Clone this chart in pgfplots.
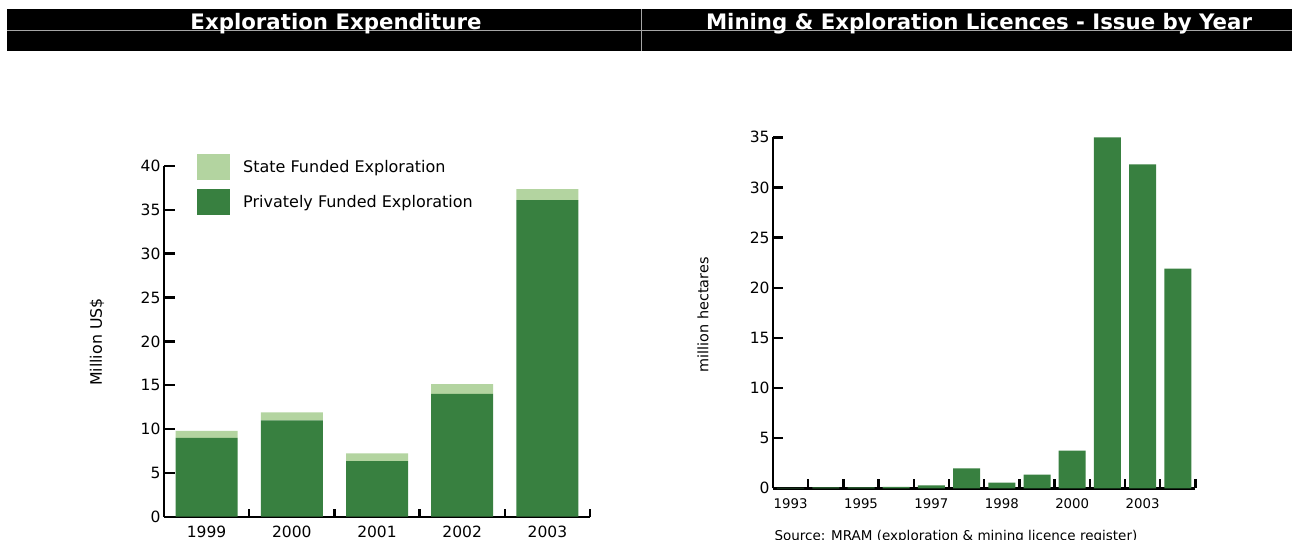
\documentclass[border=0pt]{standalone}
\usepackage{fontspec}
\setmainfont{DejaVu Sans}
\usepackage{pgfplots}
\pgfplotsset{compat=1.18}
\definecolor{dkgreen}{RGB}{56,128,64}
\definecolor{ltgreen}{RGB}{179,212,160}
\begin{document}
\begin{tikzpicture}[x=1pt,y=1pt]
\useasboundingbox (0,0) rectangle (1293,-539);
\fill[white] (0,0) rectangle (1293,-539);
\fill[black] (7,-9) rectangle (1292,-51);
\draw[gray!70, line width=0.8pt] (7,-30) -- (1292,-30);
\draw[gray!70, line width=0.8pt] (641.5,-9) -- (641.5,-51);
\node[text=white, font=\fontsize{21.3}{24}\selectfont\bfseries, anchor=base] at (336,-29.5) {Exploration Expenditure};
\node[text=white, font=\fontsize{21.3}{24}\selectfont\bfseries, anchor=base] at (979,-29.5) {Mining \& Exploration Licences - Issue by Year};

\begin{axis}[
  at={(164pt,-516.7pt)}, anchor=south west,
  scale only axis, width=426pt, height=350.7pt,
  xmin=-0.5, xmax=4.5, ymin=0, ymax=40,
  axis x line=bottom, axis y line=left,
  axis line style={-, line width=2.4pt, black},
  ybar stacked, bar width=62pt,
  ytick={0,5,...,40},
  xtick={0,...,4}, xticklabels={1999,2000,2001,2002,2003},
  major x tick style={draw=none},
  minor xtick={0.5,1.5,2.5,3.5,4.5},
  tick align=inside,
  major tick length=11pt, minor tick length=8pt,
  ytick style={line width=2.4pt, black},
  minor x tick style={line width=2.4pt, black},
  /pgf/number format/assume math mode=true,
  ticklabel style={font=\fontsize{15.5}{18}\selectfont},
  xticklabel style={yshift=-6pt},
  ylabel={Million US\$},
  ylabel style={at={(axis description cs:-0.157,0.498)}, anchor=center, font=\fontsize{15.8}{18}\selectfont},
  reverse legend,
  legend image code/.code={\fill[#1] (0pt,-13pt) rectangle (33pt,13pt);},
  legend style={draw=none, fill=none, at={(axis description cs:0.0775,1.034)}, anchor=north west,
    inner sep=0pt, row sep=9pt, font=\fontsize{16}{18}\selectfont, legend cell align=left,
    /tikz/every odd column/.append style={column sep=11pt}},
]
\addplot[fill=dkgreen, draw=none] coordinates {(0,9.0) (1,11.0) (2,6.35) (3,14.0) (4,36.1)};
\addlegendentry{Privately Funded Exploration}
\addplot[fill=ltgreen, draw=none] coordinates {(0,0.8) (1,0.9) (2,0.87) (3,1.13) (4,1.25)};
\addlegendentry{State Funded Exploration}
\end{axis}

\begin{axis}[
  at={(773pt,-488.3pt)}, anchor=south west,
  scale only axis, width=422.4pt, height=351pt,
  xmin=-0.5, xmax=11.5, ymin=0, ymax=35,
  axis x line=bottom, axis y line=left,
  axis line style={-, line width=2.4pt, black},
  ybar, bar width=27pt,
  ytick={0,5,...,35},
  xtick={0,2,...,10}, xticklabels={1993,1995,1997,1998,2000,2003},
  major x tick style={draw=none},
  minor xtick={0.5,1.5,...,11.5},
  tick align=inside,
  major tick length=10pt, minor tick length=9pt,
  ytick style={line width=2.4pt, black},
  minor x tick style={line width=2.4pt, black},
  /pgf/number format/assume math mode=true,
  yticklabel style={font=\fontsize{15.5}{18}\selectfont},
  xticklabel style={font=\fontsize{13.3}{15}\selectfont, yshift=-7pt},
  ylabel={million hectares},
  ylabel style={at={(axis description cs:-0.166,0.494)}, anchor=center, font=\fontsize{14.4}{16}\selectfont},
]
\addplot[fill=dkgreen, draw=none] coordinates {(0,0.05) (1,0.1) (2,0.1) (3,0.15) (4,0.3) (5,2.0) (6,0.57) (7,1.36) (8,3.75) (9,35.0) (10,32.3) (11,21.9)};
\end{axis}
\node[anchor=base west, font=\fontsize{13.5}{16}\selectfont] at (771,-540) {Source: MRAM (exploration \& mining licence register)};
\end{tikzpicture}
\end{document}
